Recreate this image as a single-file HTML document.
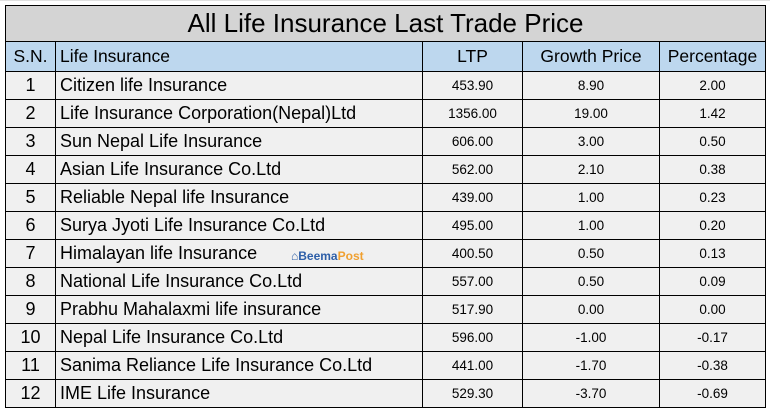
<!DOCTYPE html>
<html><head><meta charset="utf-8"><style>
body{margin:0;width:770px;height:413px;background:#fff;overflow:hidden;font-family:"Liberation Sans",sans-serif;position:relative}
.g{position:absolute;background:#e0e0e0}
table{position:absolute;left:5px;top:5px;border-collapse:collapse;table-layout:fixed}
td{border:1px solid #000;height:27px;padding:0;color:#000;background:#f0f0f0;white-space:nowrap;overflow:hidden}
.t td{background:#d4d4d4;height:35px;text-align:center;font-size:26px}
.h td{background:#bdd7ee;height:29px;font-size:17.5px}
.c{text-align:center}
.n{font-size:18px;padding-left:4px}
.s{font-size:18px;text-align:center}
.v{font-size:13.5px;text-align:center}
.bp{position:absolute;left:291px;top:249px;font-size:12px;font-weight:bold;color:#2e5fa8}
.bp b{color:#f0a030}
</style></head><body>
<div class="g" style="left:0;top:0;width:770px;height:1px"></div>
<table>
<colgroup><col style="width:50px"><col style="width:367px"><col style="width:100px"><col style="width:137px"><col style="width:106px"></colgroup>
<tr class="t"><td colspan="5">All Life Insurance Last Trade Price</td></tr>
<tr class="h"><td class="c">S.N.</td><td style="padding-left:4px">Life Insurance</td><td class="c">LTP</td><td class="c">Growth Price</td><td class="c">Percentage</td></tr>
<tr><td class="s">1</td><td class="n">Citizen life Insurance</td><td class="v">453.90</td><td class="v">8.90</td><td class="v">2.00</td></tr>
<tr><td class="s">2</td><td class="n">Life Insurance Corporation(Nepal)Ltd</td><td class="v">1356.00</td><td class="v">19.00</td><td class="v">1.42</td></tr>
<tr><td class="s">3</td><td class="n">Sun Nepal Life Insurance</td><td class="v">606.00</td><td class="v">3.00</td><td class="v">0.50</td></tr>
<tr><td class="s">4</td><td class="n">Asian Life Insurance Co.Ltd</td><td class="v">562.00</td><td class="v">2.10</td><td class="v">0.38</td></tr>
<tr><td class="s">5</td><td class="n">Reliable Nepal life Insurance</td><td class="v">439.00</td><td class="v">1.00</td><td class="v">0.23</td></tr>
<tr><td class="s">6</td><td class="n">Surya Jyoti Life Insurance Co.Ltd</td><td class="v">495.00</td><td class="v">1.00</td><td class="v">0.20</td></tr>
<tr><td class="s">7</td><td class="n">Himalayan life Insurance</td><td class="v">400.50</td><td class="v">0.50</td><td class="v">0.13</td></tr>
<tr><td class="s">8</td><td class="n">National Life Insurance Co.Ltd</td><td class="v">557.00</td><td class="v">0.50</td><td class="v">0.09</td></tr>
<tr><td class="s">9</td><td class="n">Prabhu Mahalaxmi life insurance</td><td class="v">517.90</td><td class="v">0.00</td><td class="v">0.00</td></tr>
<tr><td class="s">10</td><td class="n">Nepal Life Insurance Co.Ltd</td><td class="v">596.00</td><td class="v">-1.00</td><td class="v">-0.17</td></tr>
<tr><td class="s">11</td><td class="n">Sanima Reliance Life Insurance Co.Ltd</td><td class="v">441.00</td><td class="v">-1.70</td><td class="v">-0.38</td></tr>
<tr><td class="s">12</td><td class="n">IME Life Insurance</td><td class="v">529.30</td><td class="v">-3.70</td><td class="v">-0.69</td></tr>
</table>
<div class="bp">⌂Beema<b>Post</b></div>
</body></html>
